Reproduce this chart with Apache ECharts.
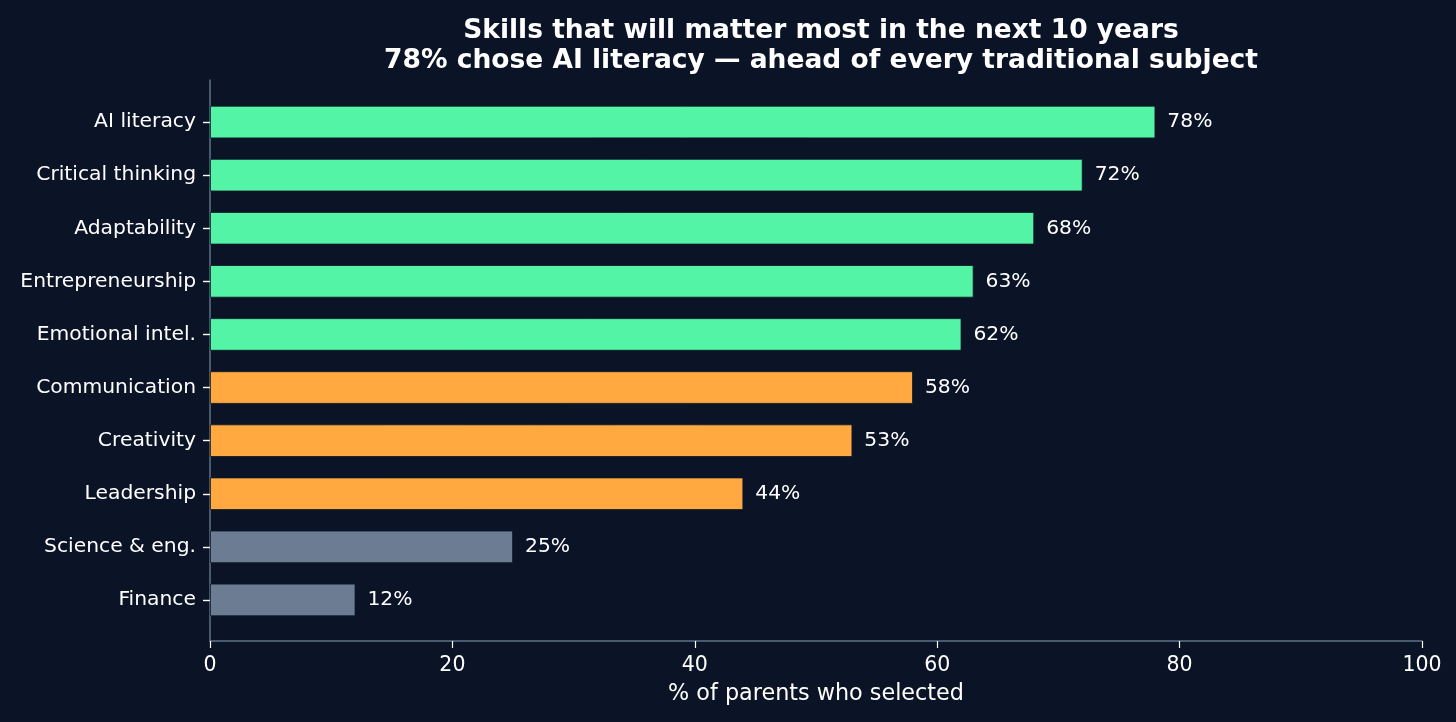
<!DOCTYPE html>
<html>
<head>
<meta charset="utf-8">
<title>Skills that will matter most</title>
<script src="https://cdn.jsdelivr.net/npm/echarts@6/dist/echarts.min.js"></script>
<style>
    html, body { margin: 0; padding: 0; background: #0b1426; }
    #chart { width: 1456px; height: 722px; }
</style>
</head>
<body>
<div id="chart"></div>
<script>
'use strict';

// survey data, top to bottom
var skills = ['AI literacy', 'Critical thinking', 'Adaptability', 'Entrepreneurship', 'Emotional intel.',
    'Communication', 'Creativity', 'Leadership', 'Science & eng.', 'Finance'];
var shares = [78, 72, 68, 63, 62, 58, 53, 44, 25, 12];
var tiers = ['high', 'high', 'high', 'high', 'high', 'mid', 'mid', 'mid', 'low', 'low'];
var xTicks = [0, 20, 40, 60, 80, 100];

var palette = { high: '#53f4a6', mid: '#ffa940', low: '#6b7c93' };
var bg = '#0b1426';
var spine = '#5f7089';
var font = 'DejaVu Sans';

var chart = echarts.init(document.getElementById('chart'));

var option = {
    backgroundColor: bg,
    animation: false,
    textStyle: { fontFamily: font },
    title: {
        text: 'Skills that will matter most in the next 10 years\n78% chose AI literacy \u2014 ahead of every traditional subject',
        left: 816,
        top: 11,
        textAlign: 'center',
        textStyle: { color: '#ffffff', fontSize: 26.5, fontWeight: 'bold', fontFamily: font, lineHeight: 30 }
    },
    grid: [
        // bars
        { left: 210, right: 34, top: 95.5, bottom: 95.5 },
        // spines and value axis
        { left: 210, right: 34, top: 80, bottom: 81 }
    ],
    xAxis: [
        { gridIndex: 0, type: 'value', min: 0, max: 100, show: false },
        {
            gridIndex: 1, type: 'value', min: 0, max: 100, interval: 20,
            name: '% of parents who selected',
            nameLocation: 'middle',
            nameGap: 42,
            nameTextStyle: { color: '#ffffff', fontSize: 22.3, fontFamily: font },
            axisLine: { show: true, lineStyle: { color: spine, width: 1.5 } },
            axisTick: { show: true, length: 7, lineStyle: { color: '#ffffff', width: 1.2 } },
            axisLabel: {
                color: '#ffffff', fontSize: 20.5, margin: 14, fontFamily: font,
                formatter: function (v) { return xTicks.indexOf(v) >= 0 ? String(v) : ''; }
            },
            splitLine: { show: false }
        }
    ],
    yAxis: [
        {
            gridIndex: 0, type: 'category', data: skills, inverse: true,
            axisLine: { show: false },
            axisTick: { show: true, alignWithLabel: true, length: 7, lineStyle: { color: '#ffffff', width: 1.4 } },
            axisLabel: { color: '#ffffff', fontSize: 20.3, margin: 14, fontFamily: font, padding: [3, 0, 0, 0] }
        },
        {
            gridIndex: 1, type: 'value', min: 0, max: 1,
            axisLine: { show: true, lineStyle: { color: spine, width: 1.5 } },
            axisTick: { show: false },
            axisLabel: { show: false },
            splitLine: { show: false }
        }
    ],
    series: [{
        type: 'bar',
        xAxisIndex: 0,
        yAxisIndex: 0,
        barWidth: 32.5,
        data: shares.map(function (v, i) {
            return {
                value: v,
                itemStyle: { color: palette[tiers[i]], borderColor: bg, borderWidth: 0.8 }
            };
        }),
        label: {
            show: true,
            position: 'right',
            distance: 12,
            color: '#ffffff',
            fontSize: 20.3,
            fontFamily: font,
            formatter: function (p) { return p.value + '%'; }
        }
    }]
};

chart.setOption(option);
</script>
</body>
</html>
